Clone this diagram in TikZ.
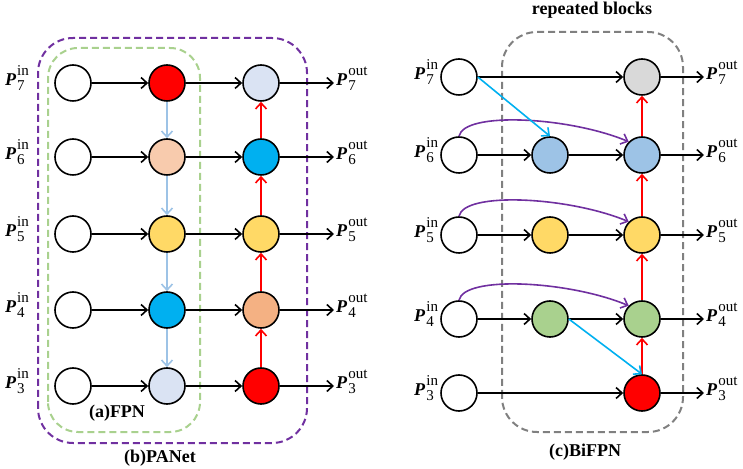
\documentclass[tikz,border=0pt]{standalone}
\usepackage{fontspec}
\setmainfont{Liberation Serif}
\usetikzlibrary{arrows.meta}

\definecolor{cRed}{HTML}{FF0000}
\definecolor{cPeach}{HTML}{F8CBAD}
\definecolor{cYellow}{HTML}{FFD966}
\definecolor{cBlue}{HTML}{00B0F0}
\definecolor{cLight}{HTML}{DAE3F3}
\definecolor{cOrange}{HTML}{F4B183}
\definecolor{cGray}{HTML}{D9D9D9}
\definecolor{cSky}{HTML}{9DC3E6}
\definecolor{cGreen}{HTML}{A9D18E}
\definecolor{cPurple}{HTML}{7030A0}
\definecolor{cDash}{HTML}{808080}

\tikzset{
  feat/.style={circle, draw=black, line width=1.6pt, minimum size=36pt, inner sep=0pt},
  flow/.style={line width=1.6pt, -{Straight Barb[length=6pt,width=11pt,line width=1.6pt]}},
  topdown/.style={flow, draw=cSky},
  bottomup/.style={flow, draw=cRed},
  skip/.style={flow, draw=cPurple},
  cross/.style={flow, draw=cBlue},
  groupbox/.style={line width=2pt, dash pattern=on 7pt off 4pt},
  level/.style={inner sep=2pt, yshift=3pt},
  caption/.style={font=\fontsize{18}{20}\selectfont\bfseries}
}
% P with stacked level index and in/out tag
\newcommand{\plab}[2]{{\fontsize{18}{18}\selectfont\textbf{\textit{P}}}\kern1pt\raisebox{10pt}{\fontsize{15}{15}\selectfont\begin{tabular}[t]{@{}l@{}}#2\\#1\end{tabular}}}

\begin{document}
\begin{tikzpicture}[x=1pt, y=1pt]
  \useasboundingbox (0,0) rectangle (743,468);

  % (a) FPN and (b) PANet frames
  \draw[groupbox, draw=cGreen, rounded corners=30pt] (48,36) rectangle (200,420);
  \draw[groupbox, draw=cPurple, rounded corners=35pt] (38,25) rectangle (307,430);

  % left panel: levels 7 ... 3
  \foreach \r/\y/\cb/\cc in {7/385/cRed/cLight, 6/311/cPeach/cBlue, 5/234/cYellow/cYellow,
                             4/158/cBlue/cOrange, 3/82/cLight/cRed} {
    \node[level] (ain\r) at (17,\y) {\plab{\r}{in}};
    \node[feat] (a\r) at (73,\y) {};
    \node[feat, fill=\cb] (b\r) at (167,\y) {};
    \node[feat, fill=\cc] (c\r) at (261,\y) {};
    \node[level, anchor=west] (aout\r) at (334,\y) {\plab{\r}{out}};
    \draw[flow] (a\r) -- (b\r);
    \draw[flow] (b\r) -- (c\r);
    \draw[flow] (c\r.east) -- (c\r.east -| aout\r.west);
  }
  \foreach \u/\d in {7/6, 6/5, 5/4, 4/3} {
    \draw[topdown] (b\u) -- (b\d);
    \draw[bottomup] (c\d) -- (c\u);
  }

  % (c) BiFPN frame
  \draw[groupbox, draw=cDash, rounded corners=35pt] (502,36) rectangle (683,436);

  % right panel: levels 7 ... 3
  \foreach \r/\y/\cc in {7/391/cGray, 6/313/cSky, 5/233/cYellow, 4/149/cGreen, 3/75/cRed} {
    \node[feat] (p\r) at (459,\y) {};
    \node[level, anchor=east] (pin\r) at (p\r.west) {\plab{\r}{in}};
    \node[feat, fill=\cc] (r\r) at (642,\y) {};
    \node[level, anchor=west] (pout\r) at (704,\y) {\plab{\r}{out}};
    \draw[flow] (r\r.east) -- (r\r.east -| pout\r.west);
  }
  \foreach \r/\y/\cm in {6/313/cSky, 5/233/cYellow, 4/149/cGreen} {
    \node[feat, fill=\cm] (q\r) at (550,\y) {};
    \draw[flow] (p\r) -- (q\r);
    \draw[flow] (q\r) -- (r\r);
    \draw[skip] (p\r.north) .. controls +(5,25) and +(-60,25) .. (r\r.north west);
  }
  \draw[flow] (p7) -- (r7);
  \draw[flow] (p3) -- (r3);
  \foreach \u/\d in {7/6, 6/5, 5/4, 4/3} {
    \draw[bottomup] (r\d) -- (r\u);
  }
  \draw[cross] (p7.east) -- (q6.north);
  \draw[cross] (q4.east) -- (r3.north);

  % captions
  \node[caption] (capa) at (117,55) {(a)FPN};
  \node[caption] (capb) at (160,10) {(b)PANet};
  \node[caption] (capc) at (585,16) {(c)BiFPN};
  \node[caption, anchor=north, inner sep=1pt] (caprep) at (592,467) {repeated blocks};
\end{tikzpicture}
\end{document}
